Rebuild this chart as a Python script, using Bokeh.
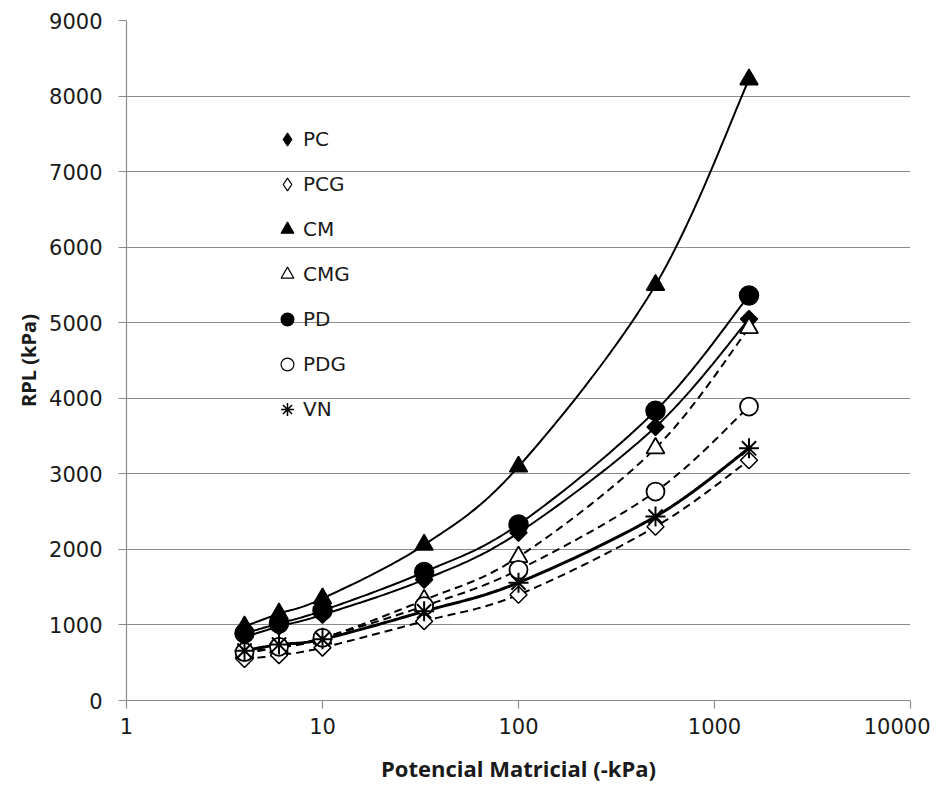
import numpy as np
from bokeh.plotting import figure
from bokeh.models import Range1d, FixedTicker, PrintfTickFormatter, Legend, LegendItem
from bokeh.embed import file_html
from bokeh.resources import INLINE

# ---- data ----
potencial = [4, 6, 10, 33, 100, 500, 1500]
PC  = [840, 980, 1135, 1600, 2220, 3620, 5050]
PCG = [550, 600, 700, 1050, 1400, 2300, 3180]
CM  = [980, 1150, 1350, 2060, 3095, 5500, 8220]
CMG = [630, 700, 820, 1330, 1900, 3340, 4930]
PD  = [890, 1020, 1190, 1700, 2330, 3835, 5360]
PDG = [640, 710, 830, 1250, 1730, 2765, 3890]
VN  = [660, 740, 810, 1180, 1560, 2435, 3338]

x_ticks = [1, 10, 100, 1000, 10000]
y_ticks = [0, 1000, 2000, 3000, 4000, 5000, 6000, 7000, 8000, 9000]


def smooth(xs, ys, n=30):
    """Excel-like smoothed line (uniform Catmull-Rom) in log-x space."""
    lx = np.log10(np.asarray(xs, float))
    yy = np.asarray(ys, float)
    P = np.column_stack([lx, yy])
    P = np.vstack([P[0], P, P[-1]])
    out = []
    t = np.linspace(0, 1, n)
    for i in range(1, len(P) - 2):
        p0, p1, p2, p3 = P[i - 1], P[i], P[i + 1], P[i + 2]
        tt = t[:, None]
        seg = 0.5 * ((2 * p1) + (-p0 + p2) * tt + (2 * p0 - 5 * p1 + 4 * p2 - p3) * tt ** 2
                     + (-p0 + 3 * p1 - 3 * p2 + p3) * tt ** 3)
        out.append(seg if i == 1 else seg[1:])
    S = np.vstack(out)
    return 10 ** S[:, 0], S[:, 1]


p = figure(width=930, height=785, x_axis_type="log",
           x_range=Range1d(1, 10000), y_range=Range1d(0, 9000),
           output_backend="svg", toolbar_location=None,
           min_border_left=126, min_border_right=20, min_border_top=20, min_border_bottom=84)
p.outline_line_color = None
p.background_fill_color = "white"

GRAY = "#8c8c8c"
p.xgrid.grid_line_color = None
p.ygrid.grid_line_color = GRAY
p.ygrid.grid_line_width = 1.2
p.ygrid.ticker = FixedTicker(ticks=y_ticks)

xa = p.xaxis[0]
xa.ticker = FixedTicker(ticks=x_ticks, minor_ticks=[])
xa.formatter = PrintfTickFormatter(format="%d")
ya = p.yaxis[0]
ya.ticker = FixedTicker(ticks=y_ticks, minor_ticks=[])
for ax in (xa, ya):
    ax.axis_line_color = GRAY
    ax.axis_line_width = 1.2
    ax.major_tick_line_color = GRAY
    ax.major_tick_line_width = 1.2
    ax.major_tick_in = 0
    ax.major_tick_out = 8
    ax.minor_tick_line_color = None
    ax.major_label_text_font = "DejaVu Sans"
    ax.major_label_text_font_size = "21px"
    ax.major_label_text_color = "#1a1a1a"
    ax.axis_label_text_font = "Open Sans"
    ax.axis_label_text_font_style = "bold"
    ax.axis_label_text_color = "#1a1a1a"
xa.major_label_standoff = 9
ya.major_label_standoff = 16
xa.axis_label = "Potencial Matricial (-kPa)"
ya.axis_label = "RPL (kPa)"
xa.axis_label_text_font_size = "22px"
ya.axis_label_text_font_size = "20px"
xa.axis_label_standoff = 16
ya.axis_label_standoff = 4

# ---- curves (smoothed lines through the points) ----
series = [
    ("PC", PC, "solid", 2.0),
    ("PCG", PCG, "8 5", 2.0),
    ("CM", CM, "solid", 2.0),
    ("CMG", CMG, "8 5", 2.0),
    ("PD", PD, "solid", 2.0),
    ("PDG", PDG, "8 5", 2.0),
    ("VN", VN, "solid", 3.0),
]
for name, ys, dash, lw in series:
    sx, sy = smooth(potencial, ys)
    p.line(sx, sy, line_color="black", line_width=lw, line_dash=dash)

# ---- markers ----
p.scatter(potencial, PC, marker="square", angle=np.pi / 4, size=12,
          fill_color="black", line_color="black", line_width=1.5)
p.scatter(potencial, PCG, marker="square", angle=np.pi / 4, size=12,
          fill_color="white", line_color="black", line_width=1.5)
p.scatter(potencial, CM, marker="triangle", size=18,
          fill_color="black", line_color="black", line_width=1.5)
p.scatter(potencial, CMG, marker="triangle", size=18,
          fill_color="white", line_color="black", line_width=1.8)
p.scatter(potencial, PD, marker="circle", size=19,
          fill_color="black", line_color="black", line_width=1.5)
p.scatter(potencial, PDG, marker="circle", size=18,
          fill_color="white", line_color="black", line_width=1.8)
p.scatter(potencial, VN, marker="asterisk", size=20,
          line_color="black", line_width=2)

# legend-only renderers (a single NaN point that is never drawn in the plot)
names = ["PC", "PCG", "CM", "CMG", "PD", "PDG", "VN"]
legend_styles = {
    "PC": dict(marker="diamond", fill_color="black", line_color="black", line_width=1.2),
    "PCG": dict(marker="diamond", fill_color="white", line_color="black", line_width=1.2),
    "CM": dict(marker="triangle", fill_color="black", line_color="black", line_width=1.2),
    "CMG": dict(marker="triangle", fill_color="white", line_color="black", line_width=1.2),
    "PD": dict(marker="circle", fill_color="black", line_color="black", line_width=1.2),
    "PDG": dict(marker="circle", fill_color="white", line_color="black", line_width=1.2),
    "VN": dict(marker="asterisk", line_color="black", line_width=1.5),
}
items = []
for n in names:
    r = p.scatter(x=[np.nan], y=[np.nan], size=13, **legend_styles[n])
    items.append(LegendItem(label=n, renderers=[r]))

legend = Legend(items=items, location=(145, 275), orientation="vertical",
                glyph_width=32, glyph_height=32, label_height=32, spacing=13,
                label_standoff=0, padding=0, margin=0,
                border_line_color=None, background_fill_alpha=0,
                label_text_font="DejaVu Sans", label_text_font_size="20px",
                label_text_color="#1a1a1a")
p.add_layout(legend, "center")

open("out.html", "w").write(file_html(p, INLINE))
